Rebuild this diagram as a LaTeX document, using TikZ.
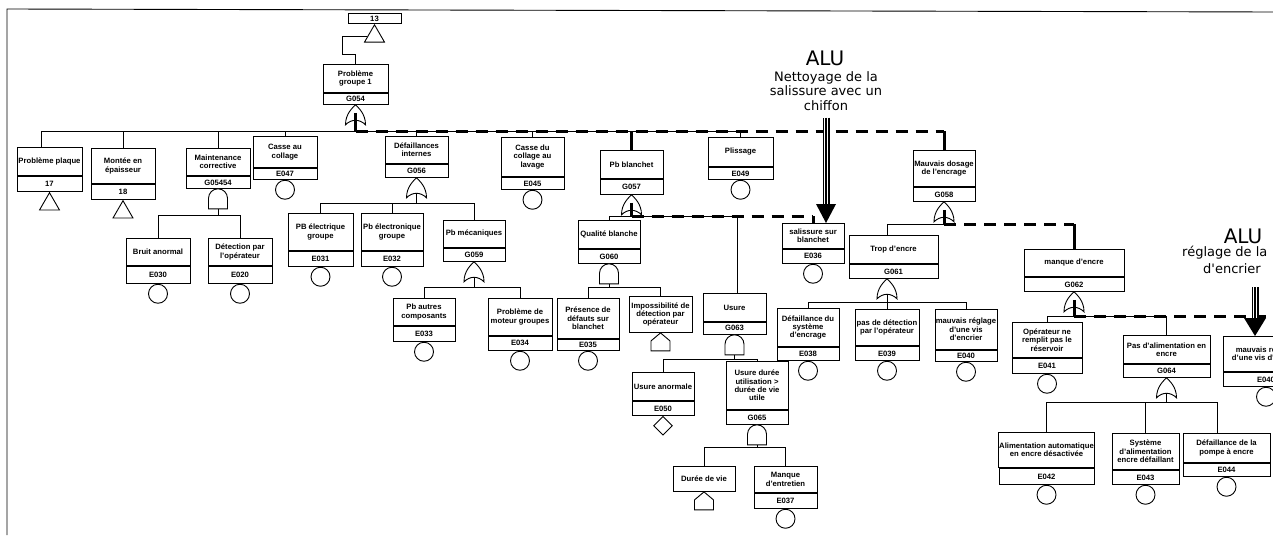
\documentclass[tikz,border=0pt]{standalone}
\usepackage{fontspec}
\setmainfont{Liberation Sans}
\newfontfamily\alufont{DejaVu Sans}
\usetikzlibrary{shapes.geometric,calc}

\tikzset{
  evbox/.style={draw, line width=0.9pt, inner sep=0.5pt, align=center,
    font=\fontsize{7.7}{8.4}\selectfont\bfseries},
  evcirc/.style={draw, line width=0.9pt, circle, minimum size=19pt, inner sep=0pt, anchor=north},
  evtri/.style={draw, line width=0.9pt, regular polygon, regular polygon sides=3,
    minimum size=23pt, inner sep=0pt, anchor=north},
  evdiam/.style={draw, line width=0.9pt, diamond, minimum width=19pt, minimum height=19pt,
    inner sep=0pt, anchor=north},
  link/.style={line width=0.9pt},
  hotdash/.style={line width=3pt, dash pattern=on 12pt off 8pt},
  hotline/.style={line width=3pt},
  gateline/.style={line width=0.9pt, fill=white},
  orgate/.pic={
    \draw[gateline] (0,0) .. controls (3,3) and (10,9) .. (10,20)
      .. controls (4,14) and (-4,14) .. (-10,20)
      .. controls (-10,9) and (-3,3) .. (0,0) -- cycle;
    \coordinate (-b) at (0,15.5);
    \coordinate (-m) at (0,8);
  },
  andgate/.pic={
    \draw[gateline] (-9.5,20) -- (-9.5,9.5) arc[start angle=180, end angle=360, radius=9.5]
      -- (9.5,20) -- cycle;
    \coordinate (-b) at (0,20);
  },
  house/.pic={
    \draw[gateline] (0,0) -- (9.5,8) -- (9.5,18) -- (-9.5,18) -- (-9.5,8) -- cycle;
  },
  alubig/.style={font=\alufont\fontsize{20}{22}\selectfont, inner sep=0pt},
  alutxt/.style={font=\alufont\fontsize{13}{14.5}\selectfont, align=center, inner sep=0pt},
  triple/.style={line width=7pt, postaction={draw, white, line width=4.4pt},
    postaction={draw, black, line width=1.3pt}},
}

% event with a text cell and an identifier cell
\newcommand\evpair[8]{%
  \node[evbox, minimum width={#3-#2}, minimum height={#5-#4}, anchor=north] (#1) at ({(#2+#3)/2},#4) {#7};
  \node[evbox, minimum width={#3-#2}, minimum height={#6-#5}, anchor=north] (#1-id) at (#1.south) {#8};}
% event with a text cell only
\newcommand\evsingle[6]{%
  \node[evbox, minimum width={#3-#2}, minimum height={#5-#4}, anchor=north] (#1) at ({(#2+#3)/2},#4) {#6};}

\begin{document}
\begin{tikzpicture}[x=1pt, y=-1pt]
\useasboundingbox (0,0) rectangle (1273,535);
\clip (0,0) rectangle (1273,535);

% sheet frame
\draw[link] (7,535) -- (7,9) -- (1273,12);

% ---- events ----
\node[evbox, minimum width=53, minimum height=10, anchor=north] (t13) at (374.5,13) {13};
\node[evtri] (t13-s) at (t13.south) {};
\evpair{pg1}{323}{388}{64}{92}{103}{Problème\\groupe 1}{G054}

\evpair{pp}{17}{82}{147}{175}{190}{Problème plaque}{17}
\evpair{me}{91}{155}{148}{183}{198}{Montée en\\épaisseur}{18}
\evpair{mc}{186}{250}{148}{175}{187}{Maintenance\\corrective}{G05454}
\evpair{cc}{253}{317}{136}{167}{178}{Casse au\\collage}{E047}
\evpair{di}{385}{448}{136}{163}{176}{Défaillances\\internes}{G056}
\evpair{cl}{501}{564}{137}{176}{188}{Casse du\\collage au\\lavage}{E045}
\evpair{pb}{600}{663}{150}{178}{193}{Pb blanchet}{G057}
\evpair{pl}{708}{773}{137}{166}{178}{Plissage}{E049}
\evpair{md}{913}{975}{150}{186}{200}{Mauvais dosage\\de l'encrage}{G058}

\evpair{ba}{126}{190}{238}{265}{282}{Bruit anormal}{E030}
\evpair{dp}{208}{272}{238}{265}{282}{Détection par\\l'opérateur}{E020}
\evpair{pe}{288}{353}{213}{250}{265}{PB électrique\\groupe}{E031}
\evpair{pn}{361}{423}{213}{250}{265}{Pb électronique\\groupe}{E032}
\evpair{pm}{443}{505}{220}{247}{260}{Pb mécaniques}{G059}
\evpair{qb}{578}{640}{220}{248}{262}{Qualité blanche}{G060}
\evpair{sb}{782}{844}{223}{248}{262}{salissure sur\\blanchet}{E036}
\evpair{te}{849}{938}{235}{263}{277}{Trop d'encre}{G061}
\evpair{mq}{1024}{1124}{249}{276}{290}{manque d'encre}{G062}

\evpair{pa}{393}{455}{298}{325}{340}{Pb autres\\composants}{E033}
\evpair{pg}{488}{552}{298}{335}{349}{Problème de\\moteur groupes}{E034}
\evpair{pd}{557}{619}{298}{338}{349}{Présence de\\défauts sur\\blanchet}{E035}
\evsingle{ip}{629}{692}{296}{332}{Impossibilité de\\détection par\\opérateur}
\evpair{us}{703}{766}{293}{321}{333}{Usure}{G063}
\evpair{ds}{777}{839}{308}{346}{359}{Défaillance du\\système\\d'encrage}{E038}
\evpair{nd}{855}{919}{309}{345}{359}{pas de détection\\par l'opérateur}{E039}
\evpair{mr}{935}{997}{309}{349}{360}{mauvais réglage\\d'une vis\\d'encrier}{E040}
\evpair{op}{1012}{1082}{322}{357}{372}{Opérateur ne\\remplit pas le\\réservoir}{E041}
\evpair{pae}{1123}{1210}{335}{363}{376}{Pas d'alimentation en\\encre}{G064}
\evpair{mrb}{1223}{1309}{336}{371}{385}{mauvais réglage\\d'une vis d'encrier}{E040}

\evpair{ua}{632}{694}{372}{400}{414}{Usure anormale}{E050}
\evpair{ud}{726}{788}{361}{409}{423}{Usure durée\\utilisation >\\durée de vie\\utile}{G065}
\evsingle{dv}{673}{735}{466}{491}{Durée de vie}
\evpair{mn}{754}{817}{466}{492}{507}{Manque\\d'entretien}{E037}
\evpair{aa}{999}{1094}{432}{467}{483}{Alimentation automatique\\en encre désactivée}{E042}
\evpair{sa}{1112}{1179}{433}{469}{483}{Système\\d'alimentation\\encre défaillant}{E043}
\evpair{dpe}{1183}{1270}{433}{462}{475}{Défaillance de la\\pompe à encre}{E044}

% ---- event symbols ----
\node[evtri] (pp-s) at (pp-id.south) {};
\node[evtri] (me-s) at (me-id.south) {};
\foreach \e in {cc,cl,pl,ba,dp,pe,pn,sb,pa,pg,pd,ds,nd,mr,op,mrb,mn,aa,sa,dpe}
  \node[evcirc] (\e-s) at (\e-id.south) {};
\node[evdiam] (ua-s) at (ua-id.south) {};
\pic at (ip.south) {house};
\pic at (dv.south) {house};

% ---- gates ----
\pic (g054) at (pg1-id.south) {orgate};
\pic (g5454) at (mc-id.south) {andgate};
\pic (g056) at (di-id.south) {orgate};
\pic (g059) at (pm-id.south) {orgate};
\pic (g057) at (pb-id.south) {orgate};
\pic (g060) at (qb-id.south) {andgate};
\pic (g063) at (us-id.south) {andgate};
\pic (g065) at (ud-id.south) {andgate};
\pic (g058) at (md-id.south) {orgate};
\pic (g061) at ([xshift=-6.5pt]te-id.south) {orgate};
\pic (g062) at (mq-id.south) {orgate};
\pic (g064) at (pae-id.south) {orgate};

% ---- bus levels ----
\coordinate (b054) at (355.5,131);
\coordinate (b5454) at (218,215);
\coordinate (b056) at (416.5,203);
\coordinate (b059) at (474,287);
\coordinate (b057) at (631.5,216);
\coordinate (b060) at (609,287);
\coordinate (b063) at (734.5,359);
\coordinate (b065) at (757,447);
\coordinate (b058) at (944,224);
\coordinate (b061) at (887,302);
\coordinate (b062) at (1074,316);
\coordinate (b064) at (1166.5,402);

% ---- connectors ----
\draw[link] (t13-s.west) -- ++(-25,0) -- ++(0,18.5) -| (pg1.north);

\draw[link] (g054-b) -- (b054);
\draw[link] (b054) -| ([xshift=-8.5pt]pp.north);
\foreach \c in {me,mc,cc,di,cl,pb,pl} \draw[link] (b054) -| (\c.north);

\draw[link] (g5454-b) -- (b5454);
\foreach \c in {ba,dp} \draw[link] (b5454) -| (\c.north);

\draw[link] (g056-b) -- (b056);
\foreach \c in {pe,pn,pm} \draw[link] (b056) -| (\c.north);

\draw[link] (g059-b) -- (b059);
\foreach \c in {pa,pg} \draw[link] (b059) -| (\c.north);

\draw[link] (g057-b) -- (b057);
\draw[link] (b057) -| (qb.north);
\draw[link] (b057) -| ([xshift=2.5pt]us.north);

\draw[link] (g060-b) -- (b060);
\foreach \c in {pd,ip} \draw[link] (b060) -| (\c.north);

\draw[link] (g063-b) -- (b063);
\foreach \c in {ua,ud} \draw[link] (b063) -| (\c.north);

\draw[link] (g065-b) -- (b065);
\foreach \c in {dv,mn} \draw[link] (b065) -| (\c.north);

\draw[link] (g058-b) -- (b058);
\draw[link] (b058) -| ([xshift=-6.5pt]te.north);

\draw[link] (g061-b) -- (b061);
\foreach \c in {ds,nd,mr} \draw[link] (b061) -| (\c.north);

\draw[link] (g062-b) -- (b062);
\foreach \c in {op,pae} \draw[link] (b062) -| (\c.north);

\draw[link] (g064-b) -- (b064);
\foreach \c in {aa,sa} \draw[link] (b064) -| (\c.north);
\draw[link] (b064) -| ([xshift=-9.5pt]dpe.north);

% ---- highlighted paths ----
\draw[hotline] (g054-m) -- (b054);
\draw[hotdash] (b054) -- (b054 -| md.north);
\draw[hotline] (b054 -| pb.north) -- (pb.north);
\draw[hotline] (b054 -| md.north) -- (md.north);

\draw[hotline] (g057-m) -- (b057);
\draw[hotdash] (b057) -- (b057 -| sb.north);
\draw[hotline] (b057 -| sb.north) -- (sb.north);

\draw[hotline] (g058-m) -- (b058);
\draw[hotdash] (b058) -- (b058 -| mq.north);
\draw[hotline] (b058 -| mq.north) -- (mq.north);

\draw[hotline] (g062-m) -- (b062);
\draw[hotdash] (b062) -- (b062 -| mrb.east);

% ---- actions ----
\node[alubig] (alu1) at (825,58) {ALU};
\node[alutxt] (alu1t) at (826,91) {Nettoyage de la\\salissure avec un\\chiffon};
\draw[triple] ([yshift=-7pt]alu1t.south) -- ($(alu1t.south |- sb.north)+(0,-18)$);
\fill (alu1t.south |- sb.north) -- ++(-10,-19) -- ++(20,0) -- cycle;

\node[alubig] (alu2) at (1243,236) {ALU};
\node[alutxt, anchor=west] (alu2a) at (1182,253) {réglage de la};
\node[alutxt, anchor=west] (alu2b) at (1203,269) {d'encrier};
\coordinate (alu2tail) at (1255,287);
\draw[triple] (alu2tail) -- ($(alu2tail |- mrb.north)+(0,-18)$);
\fill (alu2tail |- mrb.north) -- ++(-11,-18) -- ++(22,0) -- cycle;
\end{tikzpicture}
\end{document}
